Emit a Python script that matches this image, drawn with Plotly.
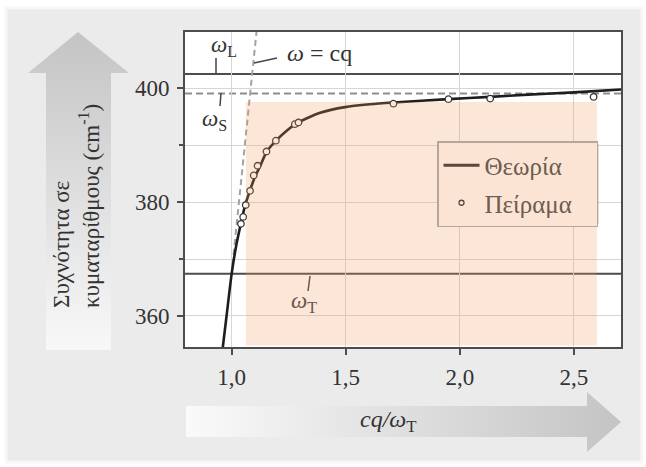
import plotly.graph_objects as go

W, H = 646, 467


def px(x):
    return x / W


def py(y):
    return 1 - y / H


# ---------------- data ----------------
omega_L = 402.5          # cm^-1
omega_S = 399.1
omega_T = 367.4

theory_x = [0.961, 0.978, 1.000, 1.020, 1.041, 1.059, 1.081, 1.103, 1.125, 1.154,
            1.195, 1.240, 1.286, 1.388, 1.497, 1.607, 1.709, 1.950, 2.133, 2.300,
            2.500, 2.706]
theory_y = [354.3, 360.0, 367.3, 372.3, 376.3, 379.4, 382.1, 384.5, 386.3, 388.9,
            390.8, 392.5, 393.9, 395.7, 396.7, 397.2, 397.5, 398.1, 398.5, 398.9,
            399.3, 399.8]

exp_x = [1.041, 1.051, 1.062, 1.081, 1.097, 1.114, 1.153, 1.194, 1.277, 1.293,
         1.709, 1.950, 2.133, 2.586]
exp_y = [376.2, 377.4, 379.5, 382.0, 384.7, 386.4, 388.9, 390.8, 393.7, 394.0,
         397.3, 398.1, 398.2, 398.5]

light_x = [1.004, 1.110]
light_y = [369.0, 410.2]

shade_x = [1.063, 2.600]
shade_y = [354.8, 397.6]

x_ticks = [1.0, 1.5, 2.0, 2.5]
x_tick_labels = ["1,0", "1,5", "2,0", "2,5"]
y_ticks = [360, 380, 400]
y_tick_labels = ["360", "380", "400"]

x_range = [0.796, 2.706]
y_range = [354.55, 409.9]

FONT = "Liberation Serif, 'Times New Roman', Times, serif"

fig = go.Figure()

# light line  omega = cq
fig.add_trace(go.Scatter(x=light_x, y=light_y, mode="lines",
                         line=dict(color="#a3a3a3", width=2, dash="6px,4px"),
                         showlegend=False, hoverinfo="skip"))
# theory
fig.add_trace(go.Scatter(x=theory_x, y=theory_y, mode="lines",
                         line=dict(color="#1e1e1e", width=2.6, shape="spline", smoothing=0.6),
                         showlegend=False, hoverinfo="skip"))
# experiment
fig.add_trace(go.Scatter(x=exp_x, y=exp_y, mode="markers",
                         marker=dict(size=6.5, color="white", line=dict(color="#333333", width=1.3)),
                         showlegend=False, hoverinfo="skip"))

# legend proxies (tinted like the shaded area)
fig.add_trace(go.Scatter(x=[None], y=[None], mode="lines", name="Θεωρία",
                         line=dict(color="#5a463a", width=3), legendgroup="a"))
fig.add_trace(go.Scatter(x=[None], y=[None], mode="markers", name="Πείραμα\u00a0\u00a0\u00a0",
                         marker=dict(size=5, color="#fbe6d7", line=dict(color="#5a463a", width=1.3)),
                         legendgroup="b"))

# ---------------- decorative arrows (pixel geometry on an overlay axis) ----------------
yarrow_px = [(78, 32), (129, 73), (111, 73), (111, 350), (46, 350), (46, 73), (28, 73), (78, 32)]
xarrow_px = [(186, 406), (587, 406), (587, 392), (621, 422), (587, 452), (587, 437), (186, 437), (186, 406)]

fig.add_trace(go.Scatter(x=[p[0] for p in yarrow_px], y=[H - p[1] for p in yarrow_px],
                         xaxis="x2", yaxis="y2", mode="lines", fill="toself",
                         line=dict(width=0, color="rgba(0,0,0,0)"),
                         fillgradient=dict(type="vertical",
                                           colorscale=[[0, "#f8f8f8"], [1, "#c4c4c4"]],
                                           start=H - 350, stop=H - 32),
                         showlegend=False, hoverinfo="skip"))
fig.add_trace(go.Scatter(x=[p[0] for p in xarrow_px], y=[H - p[1] for p in xarrow_px],
                         xaxis="x2", yaxis="y2", mode="lines", fill="toself",
                         line=dict(width=0, color="rgba(0,0,0,0)"),
                         fillgradient=dict(type="horizontal",
                                           colorscale=[[0, "#fafafa"], [1, "#c4c4c4"]],
                                           start=186, stop=621),
                         showlegend=False, hoverinfo="skip"))

shapes = [
    # outer panel
    dict(type="rect", xref="paper", yref="paper", x0=px(6), x1=px(642), y0=py(462), y1=py(8),
         fillcolor="#ebebeb", line=dict(color="#f7f7f7", width=3), layer="below"),
    # plot background
    dict(type="rect", xref="x domain", yref="y domain", x0=0, x1=1, y0=0, y1=1,
         fillcolor="white", line=dict(width=0), layer="below"),
    # horizontal reference lines
    dict(type="line", xref="x domain", yref="y", x0=0, x1=1, y0=omega_L, y1=omega_L,
         line=dict(color="#4d4d4d", width=2), layer="below"),
    dict(type="line", xref="x domain", yref="y", x0=0, x1=1, y0=omega_T, y1=omega_T,
         line=dict(color="#4d4d4d", width=2), layer="below"),
    dict(type="line", xref="x domain", yref="y", x0=0, x1=1, y0=omega_S, y1=omega_S,
         line=dict(color="#8e8e8e", width=2, dash="7px,4px"), layer="below"),
    # leader lines
    dict(type="line", xref="paper", yref="paper", x0=px(216), x1=px(216), y0=py(58), y1=py(74),
         line=dict(color="#444", width=1.5), layer="above"),
    dict(type="line", xref="paper", yref="paper", x0=px(221), x1=px(220), y0=py(93), y1=py(106),
         line=dict(color="#444", width=1.5), layer="above"),
    dict(type="line", xref="paper", yref="paper", x0=px(254), x1=px(277), y0=py(63), y1=py(58),
         line=dict(color="#444", width=1.5), layer="above"),
    dict(type="line", xref="paper", yref="paper", x0=px(310), x1=px(308), y0=py(276), y1=py(291),
         line=dict(color="#444", width=1.5), layer="above"),
    # legend shadow
    dict(type="rect", xref="paper", yref="paper", x0=px(440), x1=px(599), y0=py(224), y1=py(144),
         fillcolor="rgba(90,70,60,0.18)", line=dict(width=0), layer="above"),
    # shaded region (translucent overlay)
    dict(type="rect", xref="x", yref="y", x0=shade_x[0], x1=shade_x[1], y0=shade_y[0], y1=shade_y[1],
         fillcolor="rgba(240,150,90,0.24)", line=dict(width=0), layer="above"),
]


def label(x, y, text, size=23, color="#333", **kw):
    d = dict(xref="paper", yref="paper", x=px(x), y=py(y), text=text, showarrow=False,
             xanchor="center", yanchor="middle",
             font=dict(family=FONT, size=size, color=color))
    d.update(kw)
    return d


annotations = [
    label(224, 46, "<i>ω</i><sub>L</sub>"),
    label(214, 120, "<i>ω</i><sub>S</sub>"),
    label(304, 302, "<i>ω</i><sub>T</sub>", color="#6a5547"),
    label(319, 53, "<i>ω</i> = cq", size=24),
    label(388, 421, "<i>cq/ω</i><sub>T</sub>", size=24),
    label(76, 206, "Συχνότητα σε<br>κυματαρίθμους (cm<sup>-1</sup>)", size=23,
          textangle=-90, align="left"),
]

fig.update_layout(
    width=W, height=H,
    margin=dict(l=0, r=0, t=0, b=0),
    paper_bgcolor="white",
    plot_bgcolor="rgba(0,0,0,0)",
    font=dict(family=FONT, color="#333"),
    shapes=shapes,
    annotations=annotations,
    xaxis=dict(domain=[px(185), px(621)], range=x_range, tickvals=x_ticks, ticktext=x_tick_labels,
               showgrid=True, gridcolor="#d6d6d6", gridwidth=1, zeroline=False,
               showline=True, mirror=True, linecolor="#4d4d4d", linewidth=2,
               ticks="outside", ticklen=6, tickwidth=1.5, tickcolor="#4d4d4d",
               ticklabelstandoff=2, tickfont=dict(family=FONT, size=23, color="#333"),
               anchor="y", fixedrange=True),
    yaxis=dict(domain=[py(347), py(32)], range=y_range, tickvals=y_ticks, ticktext=y_tick_labels,
               showgrid=True, gridcolor="#d6d6d6", gridwidth=1, zeroline=False,
               showline=True, mirror=True, linecolor="#4d4d4d", linewidth=2,
               ticks="outside", ticklen=6, tickwidth=1.5, tickcolor="#4d4d4d",
               ticklabelstandoff=3, tickfont=dict(family=FONT, size=23, color="#333"),
               minor=dict(tickvals=[370, 390], ticks="outside", ticklen=4, tickwidth=1.5,
                          tickcolor="#4d4d4d", showgrid=True, gridcolor="#d6d6d6", gridwidth=1),
               anchor="x", fixedrange=True),
    xaxis2=dict(domain=[0, 1], range=[0, W], visible=False, anchor="y2", fixedrange=True),
    yaxis2=dict(domain=[0, 1], range=[0, H], visible=False, anchor="x2", fixedrange=True),
    legend=dict(x=px(437), y=py(141), xanchor="left", yanchor="top",
                bgcolor="#fbe4d4", bordercolor="#b5a79d", borderwidth=1.5,
                font=dict(family=FONT, size=25, color="#6c5c51"),
                tracegroupgap=2, itemwidth=36),
    showlegend=True,
)

fig.write_html("out.html")
